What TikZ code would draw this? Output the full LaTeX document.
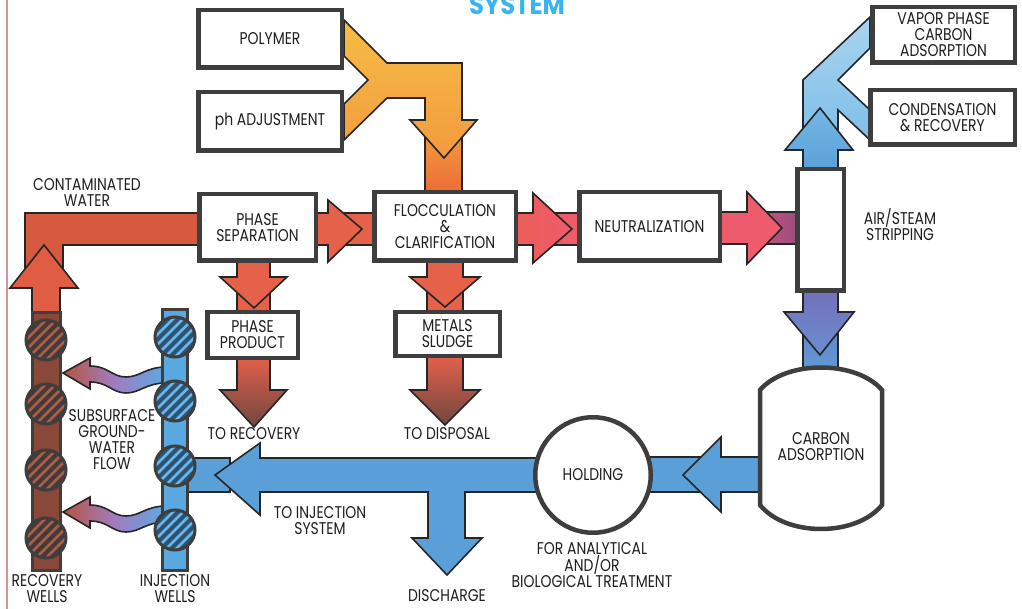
\documentclass[tikz,border=0pt]{standalone}
\usepackage{fontspec}
\setmainfont{Poppins}[FakeStretch=0.82]
\newfontfamily\titlefont{Poppins}[FakeStretch=0.9]
\definecolor{boxgray}{HTML}{3E3E3E}
\definecolor{outl}{HTML}{262626}
\definecolor{txt}{HTML}{1E1E1E}
\definecolor{leftline}{HTML}{C99A9A}
\definecolor{titleblue}{HTML}{3AB4EE}
\definecolor{yel}{HTML}{F6BD45}
\definecolor{yelor}{HTML}{F29A3E}
\definecolor{ora}{HTML}{EC6A36}
\definecolor{redA}{HTML}{E5614A}
\definecolor{redB}{HTML}{EC5E58}
\definecolor{pinkA}{HTML}{EE5B6C}
\definecolor{purpA}{HTML}{9C4C82}
\definecolor{dbrown}{HTML}{704640}
\definecolor{lred}{HTML}{D55A40}
\definecolor{lredB}{HTML}{E05C42}
\definecolor{blA}{HTML}{5B9FD8}
\definecolor{blP}{HTML}{7470BA}
\definecolor{blM}{HTML}{6A8ED0}
\definecolor{lblA}{HTML}{A9D4EF}
\definecolor{lblB}{HTML}{74B8E6}
\definecolor{recpipe}{HTML}{8A4838}
\definecolor{recbase}{HTML}{4A3836}
\definecolor{recstripe}{HTML}{A2604E}
\definecolor{injpipe}{HTML}{5AA8E0}
\definecolor{injbase}{HTML}{2C5472}
\definecolor{injstripe}{HTML}{6AB6EA}
\definecolor{wred}{HTML}{B5553E}
\definecolor{wpurp}{HTML}{A07CC0}
\definecolor{wblue}{HTML}{5BAAE2}
\newcommand\lblsize{\fontsize{17}{16}\selectfont}
\tikzset{
  box/.style={draw=boxgray, line width=4.5pt, fill=white, inner sep=0pt, align=center, text=txt, font=\lblsize},
  blk/.style={draw=outl, line width=1.6pt, line join=miter},
  lbl/.style={align=center, text=txt, font=\lblsize, inner sep=0pt},
  pipe/.style={draw=boxgray, line width=3pt},
  wellring/.style={draw=boxgray, line width=3pt},
}
\newcommand\hwell[4]{%
  \begin{scope}
    \clip (#1,#2) circle (20);
    \fill[#3] (#1,#2) circle (20);
    \foreach \d in {-40,-30,...,40} \draw[#4, line width=2.6pt] (#1+\d-25,#2+25) -- (#1+\d+25,#2-25);
  \end{scope}
  \draw[wellring] (#1,#2) circle (20);
}
\begin{document}
\begin{tikzpicture}[x=1pt,y=-1pt]
\useasboundingbox (0,0) rectangle (1022,609);
\draw[color=leftline, line width=1.5pt] (7,0) -- (7,609);
\node[font=\titlefont\bfseries\fontsize{27}{27}\selectfont, text=titleblue, anchor=base, inner sep=0pt] (title) at (517,15) {SYSTEM};

% yellow chemical feed
\draw[blk, top color=yelor, bottom color=ora] (425,135) rectangle (462,195);
\draw[blk, top color=yel, bottom color=yelor] (344,20) -- (387,63) -- (462,63) -- (462,120) -- (477,120) -- (444,158) -- (410,120) -- (425,120) -- (425,98) -- (387,98) -- (344,140) -- (344,104) -- (368,80) -- (344,56) -- cycle;

% contaminated water
\draw[blk, fill=lred] (25,213) -- (200,213) -- (200,245) -- (63,245) -- (63,282) -- (25,282) -- cycle;
\draw[blk, fill=lredB] (44,245) -- (78,288) -- (60,288) -- (60,318) -- (32,318) -- (32,288) -- (10,288) -- cycle;

% horizontal arrows
\draw[blk, fill=redA] (315,213) rectangle (375,245);
\draw[blk, fill=redA] (315,213) -- (328,213) -- (328,200) -- (362,229) -- (328,262) -- (328,245) -- (315,245) -- cycle;
\draw[blk, left color=redB, right color=pinkA] (515,213) rectangle (580,245);
\draw[blk, left color=redB, right color=pinkA] (515,213) -- (533,213) -- (533,193) -- (572,229) -- (533,263) -- (533,245) -- (515,245) -- cycle;
\draw[blk, left color=pinkA, right color=purpA] (719,212) rectangle (798,244);
\draw[blk, fill=pinkA] (719,212) -- (747,212) -- (747,192) -- (782,228) -- (747,264) -- (747,244) -- (719,244) -- cycle;

% down arrows
\draw[blk, fill=redA] (237,258) rectangle (270,313);
\draw[blk, fill=redA] (237,258) -- (270,258) -- (270,277) -- (287,277) -- (254,308) -- (220,277) -- (237,277) -- cycle;
\draw[blk, top color=redA, bottom color=dbrown] (237,355) -- (270,355) -- (270,390) -- (287,390) -- (254,427) -- (220,390) -- (237,390) -- cycle;
\draw[blk, fill=redA] (427,258) rectangle (463,313);
\draw[blk, fill=redA] (427,258) -- (463,258) -- (463,277) -- (480,277) -- (445,307) -- (410,277) -- (427,277) -- cycle;
\draw[blk, top color=redA, bottom color=dbrown] (427,355) -- (463,355) -- (463,390) -- (480,390) -- (445,425) -- (410,390) -- (427,390) -- cycle;

% vapour outlets
\draw[blk, top color=lblA, bottom color=lblB] (870,17) -- (803,80) -- (803,172) -- (838,172) -- (838,110) -- (870,140) -- (870,110) -- (838,80) -- (870,48) -- cycle;
\draw[blk, top color=lblB, bottom color=blA] (803,172) -- (803,150) -- (785,150) -- (820,108) -- (853,150) -- (838,150) -- (838,172) -- cycle;

% stripping -> carbon
\draw[blk, top color=blP, bottom color=blA] (803,290) rectangle (838,380);
\draw[blk, top color=blP, bottom color=blM] (803,290) -- (838,290) -- (838,312) -- (854,312) -- (820,355) -- (784,312) -- (803,312) -- cycle;

% carbon -> holding
\draw[blk, fill=blA] (630,457) rectangle (700,492);
\draw[blk, fill=blA] (770,457) -- (721,457) -- (721,437) -- (683,475) -- (721,512) -- (721,492) -- (770,492) -- cycle;

% holding -> injection / discharge
\draw[blk, fill=blA] (185,458) rectangle (230,492);
\draw[blk, fill=blA] (560,458) -- (260,458) -- (260,443) -- (215,475) -- (260,515) -- (260,492) -- (428,492) -- (428,538) -- (412,538) -- (447,575) -- (482,538) -- (465,538) -- (465,492) -- (560,492) -- cycle;

% subsurface flow arrows
\draw[blk, left color=wred, right color=wblue, middle color=wpurp] (63,373) -- (90,358) -- (90,366) .. controls (108,366) and (112,377) .. (126,377) .. controls (140,377) and (146,367) .. (166,367) -- (166,383) .. controls (146,383) and (140,393) .. (126,393) .. controls (112,393) and (108,382) .. (90,382) -- (90,389) -- cycle;
\begin{scope}[shift={(0,139)}]
\draw[blk, left color=wred, right color=wblue, middle color=wpurp] (63,373) -- (90,358) -- (90,366) .. controls (108,366) and (112,377) .. (126,377) .. controls (140,377) and (146,367) .. (166,367) -- (166,383) .. controls (146,383) and (140,393) .. (126,393) .. controls (112,393) and (108,382) .. (90,382) -- (90,389) -- cycle;
\end{scope}

% wells
\draw[pipe, fill=recpipe] (32,313) rectangle (60,570);
\draw[pipe, fill=injpipe] (162,310) rectangle (187,570);
\hwell{46}{340}{recbase}{recstripe}
\hwell{46}{404}{recbase}{recstripe}
\hwell{46}{470}{recbase}{recstripe}
\hwell{46}{538}{recbase}{recstripe}
\hwell{175}{337}{injbase}{injstripe}
\hwell{175}{401}{injbase}{injstripe}
\hwell{175}{466}{injbase}{injstripe}
\hwell{175}{530}{injbase}{injstripe}

% boxes
\node[box, minimum width=143.5pt, minimum height=57.5pt] (poly) at (270,39) {POLYMER};
\node[box, minimum width=143.5pt, minimum height=58.5pt] (ph) at (270,121.5) {ph ADJUSTMENT};
\node[box, minimum width=116.5pt, minimum height=66.5pt] (phase) at (257.5,227.5) {PHASE\\SEPARATION};
\node[box, minimum width=141.5pt, minimum height=68.5pt] (floc) at (445,226.5) {FLOCCULATION\\\&\\CLARIFICATION};
\node[box, minimum width=140.5pt, minimum height=68.5pt] (neut) at (649.5,226.5) {NEUTRALIZATION};
\node[box, minimum width=46.5pt, minimum height=121.5pt] (strip) at (820.5,230) {};
\node[box, minimum width=142.5pt, minimum height=55.5pt] (vapor) at (943.5,35) {VAPOR PHASE\\CARBON\\ADSORPTION};
\node[box, minimum width=144.5pt, minimum height=54.5pt] (cond) at (942.5,117.5) {CONDENSATION\\\& RECOVERY};
\node[box, minimum width=90.5pt, minimum height=45.5pt] (pprod) at (252.5,335) {PHASE\\PRODUCT};
\node[box, minimum width=104.5pt, minimum height=43.5pt] (sludge) at (447.5,334) {METALS\\SLUDGE};
\draw[box] (760,390) .. controls (786,360) and (856,360) .. (882,390) -- (882,505) .. controls (856,537) and (786,537) .. (760,505) -- cycle;
\node[box, circle, minimum size=115.5pt] (hold) at (593,475) {HOLDING};

% labels
\node[lbl] (carb) at (821,447) {CARBON\\ADSORPTION};
\node[lbl] (airst) at (900,225) {AIR/STEAM\\STRIPPING};
\node[lbl] (torec) at (254,434) {TO RECOVERY};
\node[lbl] (todis) at (447,434) {TO DISPOSAL};
\node[lbl] (toinj) at (320,521) {TO INJECTION\\SYSTEM};
\node[lbl] (disch) at (447,596) {DISCHARGE};
\node[lbl] (anal) at (592,565) {FOR ANALYTICAL\\AND/OR\\BIOLOGICAL TREATMENT};
\node[lbl] (contam) at (87,193) {CONTAMINATED\\WATER};
\node[lbl] (subs) at (112,440) {SUBSURFACE\\GROUND-\\WATER\\FLOW};
\node[lbl] (recw) at (47,589) {RECOVERY\\WELLS};
\node[lbl] (injw) at (175,589) {INJECTION\\WELLS};
\end{tikzpicture}
\end{document}
